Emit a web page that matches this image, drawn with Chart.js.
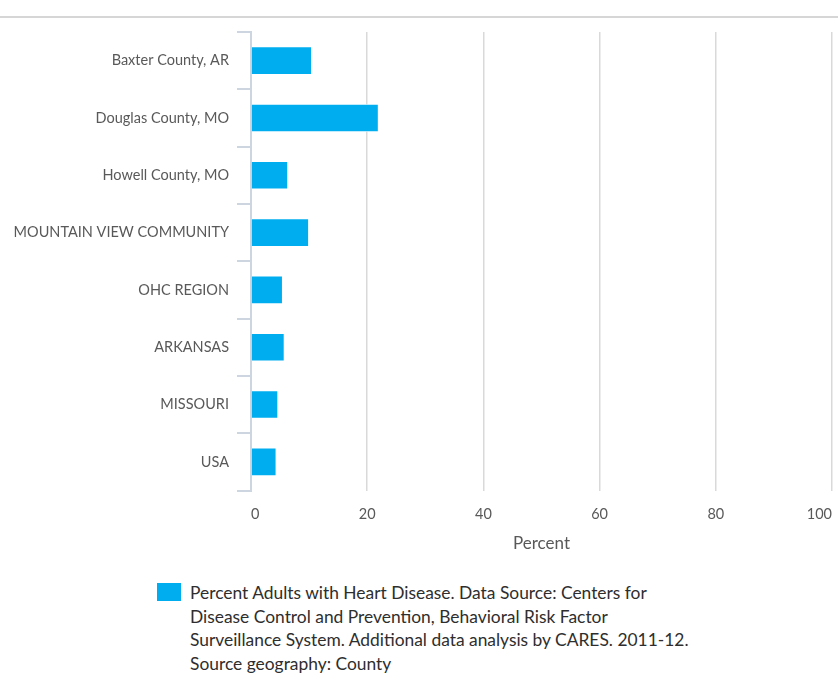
<!DOCTYPE html>
<html>
<head>
<meta charset="utf-8">
<script src="https://cdn.jsdelivr.net/npm/chart.js@4.4.1/dist/chart.umd.min.js"></script>
<style>
  body { margin: 0; background: #fff; font-family: Lato, "Open Sans", sans-serif; }
  #wrap { position: relative; width: 838px; height: 687px; overflow: hidden; }
  #topRule { position: absolute; left: 0; top: 16px; width: 838px; height: 2px; background: #d6d6d6; }
  #heartChart { position: absolute; left: 0; top: 0; }
  #legend { position: absolute; left: 157px; top: 583px; }
  .legend-item { display: flex; align-items: flex-start; }
  .legend-box { width: 24px; height: 18px; flex: none; margin-right: 9px; }
  .legend-text { white-space: pre-line; font-size: 17.4px; line-height: 23.7px; color: #2e2e2e; margin-top: -2px; }
</style>
</head>
<body>
<div id="wrap">
  <div id="topRule"></div>
  <canvas id="heartChart" width="838" height="570"></canvas>
  <div id="legend"></div>
</div>
<script>
// Percent of adults with heart disease, by geography
const categories = [
  'Baxter County, AR',
  'Douglas County, MO',
  'Howell County, MO',
  'MOUNTAIN VIEW COMMUNITY',
  'OHC REGION',
  'ARKANSAS',
  'MISSOURI',
  'USA'
];
const heartDisease = [10.5, 22.0, 6.4, 10.0, 5.5, 5.8, 4.7, 4.4];
const xTicks = [0, 20, 40, 60, 80, 100];
const legendLines = [
  'Percent Adults with Heart Disease. Data Source: Centers for',
  'Disease Control and Prevention, Behavioral Risk Factor',
  'Surveillance System. Additional data analysis by CARES. 2011-12.',
  'Source geography: County'
];

const labelColor = '#595959';
const axisBlue = '#cdd6e0';

const ctx = document.getElementById('heartChart').getContext('2d');

const heartChart = new Chart(ctx, {
  type: 'bar',
  data: {
    labels: categories,
    datasets: [{
      label: legendLines.join('\n'),
      data: heartDisease,
      backgroundColor: '#00aeef',
      borderColor: '#ffffff',
      borderWidth: 1,
      barPercentage: 0.5,
      categoryPercentage: 1
    }]
  },
  options: {
    indexAxis: 'y',
    responsive: false,
    animation: false,
    layout: { padding: { top: 32, right: 6, left: 0, bottom: 0 } },
    plugins: {
      legend: { display: false },
      tooltip: { enabled: false }
    },
    scales: {
      x: {
        min: 0,
        max: 100,
        afterBuildTicks: (scale) => {
          scale.ticks = xTicks.map(v => ({ value: v }));
        },
        afterFit: (scale) => {
          scale.height = 79.5;
          // end labels are aligned inside, so no extra side room is needed
          scale.paddingLeft = 0;
          scale.paddingRight = 0;
        },
        grid: { color: '#d9d9d9', lineWidth: 1.5, drawTicks: false },
        border: { display: false },
        ticks: {
          align: 'inner',
          padding: 15,
          color: labelColor,
          font: { family: 'Lato', size: 14.5 }
        },
        title: {
          display: true,
          text: 'Percent',
          color: labelColor,
          font: { family: 'Lato', size: 17 },
          padding: { top: 0, bottom: 16 }
        }
      },
      y: {
        afterFit: (scale) => { scale.width = 251; },
        grid: {
          offset: true,
          drawOnChartArea: false,
          tickLength: 14,
          color: axisBlue,
          lineWidth: 2
        },
        border: { color: axisBlue, width: 2 },
        ticks: {
          padding: 8,
          color: labelColor,
          font: { family: 'Lato', size: 14.5 }
        }
      }
    }
  }
});

// legend below the chart, built from the dataset
const legendEl = document.getElementById('legend');
heartChart.data.datasets.forEach(ds => {
  const item = document.createElement('div');
  item.className = 'legend-item';
  const box = document.createElement('div');
  box.className = 'legend-box';
  box.style.background = ds.backgroundColor;
  const text = document.createElement('div');
  text.className = 'legend-text';
  text.textContent = ds.label;
  item.appendChild(box);
  item.appendChild(text);
  legendEl.appendChild(item);
});
</script>
</body>
</html>
